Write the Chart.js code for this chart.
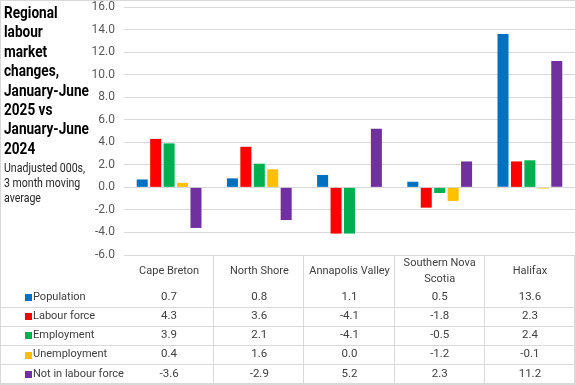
<!DOCTYPE html>
<html>
<head>
<meta charset="utf-8">
<script src="https://cdn.jsdelivr.net/npm/chart.js@4"></script>
<style>
    html, body { margin: 0; padding: 0; background: #fff; }
    #wrap { position: relative; width: 576px; height: 385px; overflow: hidden; }
    #chart { position: absolute; left: 0; top: 0; }
    #title {
        position: absolute; left: 4px; top: 3px; white-space: nowrap;
        font-family: "Roboto", sans-serif;
        font-weight: bold; font-size: 17px; line-height: 19.4px; color: #000;
        transform: scaleX(0.8); transform-origin: left top;
    }
    #subtitle {
        position: absolute; left: 4px; top: 161px; white-space: nowrap;
        font-family: "Roboto", sans-serif;
        font-size: 12px; line-height: 15px; color: #262626;
        transform: scaleX(0.88); transform-origin: left top;
    }
</style>
</head>
<body>
<div id="wrap">
    <canvas id="chart" width="576" height="385"></canvas>
    <div id="title">Regional<br>labour<br>market<br>changes,<br>January-June<br>2025 vs<br>January-June<br>2024</div>
    <div id="subtitle">Unadjusted 000s,<br>3 month moving<br>average</div>
</div>
<script>
// regions (second entry of a nested array = second header line)
const regions = ['Cape Breton', 'North Shore', 'Annapolis Valley', ['Southern Nova', 'Scotia'], 'Halifax'];

const population = [0.7, 0.8, 1.1, 0.5, 13.6];
const labourForce = [4.3, 3.6, -4.1, -1.8, 2.3];
const employment = [3.9, 2.1, -4.1, -0.5, 2.4];
const unemployment = [0.4, 1.6, 0.0, -1.2, -0.1];
const notInLabourForce = [-3.6, -2.9, 5.2, 2.3, 11.2];

const seriesNames = ['Population', 'Labour force', 'Employment', 'Unemployment', 'Not in labour force'];
const seriesColors = ['#0070C0', '#FF0000', '#00B050', '#FFC000', '#7030A0'];

const yMin = -6;
const yMax = 16;
const yStep = 2;

const FONT = '"Roboto", sans-serif';

// draws the Excel-style data table under the plot
const dataTablePlugin = {
    id: 'dataTable',
    afterDraw(chart) {
        const ctx = chart.ctx;
        const area = chart.chartArea;
        const x = chart.scales.x;
        const catW = (area.right - area.left) / regions.length;
        const top = area.bottom;
        const rowH = 19.2;
        const firstRow = 297;
        const bottom = 384;

        ctx.save();
        ctx.strokeStyle = '#d9d9d9';
        ctx.lineWidth = 1;

        // outer frame
        ctx.strokeRect(0.5, 0.5, 575, 384);

        // vertical column lines
        for (let k = 1; k <= regions.length; k++) {
            const lx = Math.round(area.left + k * catW) - 0.5;
            ctx.beginPath();
            ctx.moveTo(lx, top);
            ctx.lineTo(lx, bottom);
            ctx.stroke();
        }

        // row lines
        for (let i = 0; i < seriesNames.length; i++) {
            const ly = Math.round(firstRow + rowH / 2 + i * rowH) + 0.5;
            ctx.beginPath();
            ctx.moveTo(0, ly);
            ctx.lineTo(576, ly);
            ctx.stroke();
        }

        ctx.fillStyle = '#404040';
        ctx.font = '11px ' + FONT;
        ctx.textAlign = 'center';
        ctx.textBaseline = 'middle';

        // header labels
        regions.forEach((label, j) => {
            const cx = x.getPixelForValue(j);
            if (Array.isArray(label)) {
                ctx.fillText(label[0], cx, 263);
                ctx.fillText(label[1], cx, 279);
            } else {
                ctx.fillText(label, cx, 271);
            }
        });

        // rows
        chart.data.datasets.forEach((ds, i) => {
            const cy = firstRow + i * rowH;
            ctx.fillStyle = ds.backgroundColor;
            ctx.fillRect(25, Math.round(cy) - 3, 7, 7);
            ctx.fillStyle = '#404040';
            ctx.textAlign = 'left';
            ctx.font = '11px ' + FONT;
            ctx.fillText(ds.label, 33, cy);
            ctx.textAlign = 'center';
            ctx.font = '11.5px ' + FONT;
            ds.data.forEach((v, j) => {
                ctx.fillText(v.toFixed(1), x.getPixelForValue(j), cy);
            });
        });
        ctx.restore();
    }
};

const seriesData = [population, labourForce, employment, unemployment, notInLabourForce];

const ctx = document.getElementById('chart').getContext('2d');
new Chart(ctx, {
    type: 'bar',
    data: {
        labels: regions,
        datasets: seriesNames.map((name, i) => ({
            label: name,
            data: seriesData[i],
            backgroundColor: seriesColors[i],
            borderWidth: 0,
            categoryPercentage: 0.745,
            barPercentage: 0.82
        }))
    },
    options: {
        responsive: false,
        devicePixelRatio: 1,
        animation: false,
        layout: {
            padding: { left: 85, top: 7, right: 1, bottom: 130 }
        },
        plugins: {
            legend: { display: false },
            title: { display: false },
            tooltip: { enabled: false }
        },
        scales: {
            x: {
                display: false
            },
            y: {
                min: yMin,
                max: yMax,
                afterFit: (scale) => {
                    scale.width = 39;
                    scale.paddingTop = 0;
                    scale.paddingBottom = 0;
                },
                border: { display: false },
                grid: {
                    color: '#d9d9d9',
                    drawTicks: false
                },
                ticks: {
                    stepSize: yStep,
                    padding: 9,
                    color: '#595959',
                    font: { family: FONT, size: 12 },
                    callback: (v) => Number(v).toFixed(1)
                }
            }
        }
    },
    plugins: [dataTablePlugin]
});
</script>
</body>
</html>
